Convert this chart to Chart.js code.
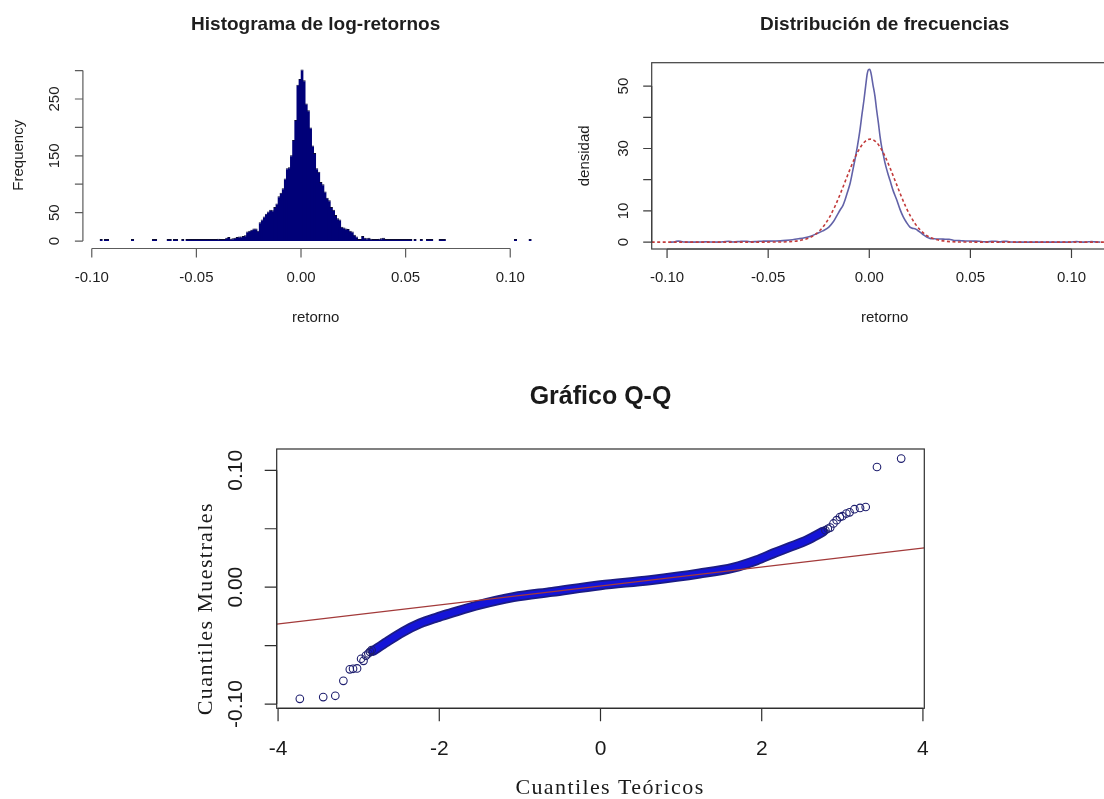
<!DOCTYPE html>
<html>
<head>
<meta charset="utf-8">
<script src="https://cdn.jsdelivr.net/npm/chart.js@4.4.1/dist/chart.umd.min.js"></script>
<style>
  html, body { margin: 0; padding: 0; background: #fff; }
  #page { position: relative; width: 1104px; height: 799px; overflow: hidden; background: #fff; }
  canvas { position: absolute; }
</style>
</head>
<body>
<div id="page">
  <canvas id="hist" width="560" height="340" style="left:0;top:0"></canvas>
  <canvas id="dens" width="600" height="340" style="left:552px;top:0"></canvas>
  <canvas id="qq" width="1104" height="459" style="left:0;top:340px"></canvas>
</div>
<script>
// ---------- Histogram of daily log-returns: bins 0.001 wide, first break at -0.096
const histFirstBreak = -0.096;
const histBinWidth = 0.001;
const histCounts = [
  1, 0, 1, 1, 0, 0, 0, 0, 0, 0,
  0, 0, 0, 0, 0, 1, 0, 0, 0, 0,
  0, 0, 0, 0, 0, 1, 1, 0, 0, 0,
  0, 0, 1, 1, 0, 1, 1, 0, 0, 1,
  0, 1, 1, 1, 1, 2, 1, 1, 2, 1,
  1, 2, 1, 2, 1, 2, 4, 2, 2, 3,
  6, 7, 4, 5, 6, 7, 8, 8, 9, 10,
  17, 18, 20, 22, 22, 18, 33, 38, 43, 48,
  52, 55, 54, 60, 66, 79, 85, 93, 110, 128,
  130, 151, 178, 213, 275, 285, 302, 283, 242, 230,
  200, 168, 155, 128, 122, 104, 100, 87, 76, 72,
  60, 55, 46, 40, 38, 25, 24, 22, 21, 18,
  17, 11, 8, 2, 1, 9, 6, 5, 6, 4,
  3, 2, 2, 4, 5, 6, 3, 2, 3, 2,
  1, 3, 2, 1, 2, 1, 1, 1, 1, 0,
  1, 0, 0, 1, 0, 0, 1, 1, 1, 0,
  0, 0, 1, 1, 1, 0, 0, 0, 0, 0,
  0, 0, 0, 0, 0, 0, 0, 0, 0, 0,
  0, 0, 0, 0, 0, 0, 0, 0, 0, 0,
  0, 0, 0, 0, 0, 0, 0, 0, 1, 0,
  0, 0, 0, 0, 0, 1
];
const histXTicks = [-0.10, -0.05, 0.00, 0.05, 0.10];
const histXTickLabels = ['-0.10', '-0.05', '0.00', '0.05', '0.10'];
const histYTicks = [0, 50, 100, 150, 200, 250, 300];
const histYTickLabels = ['0', '50', '', '150', '', '250', ''];

// ---------- Kernel density of the returns and the fitted normal density
const densBlueX = [
  -0.0984, -0.0965, -0.0955, -0.0945, -0.0930, -0.0915, -0.0880, -0.0820, -0.0805, -0.0790,
  -0.0740, -0.0710, -0.0695, -0.0675, -0.0640, -0.0625, -0.0605, -0.0585, -0.0565, -0.0545,
  -0.0525, -0.0500, -0.0470, -0.0440, -0.0410, -0.0380, -0.0350, -0.0320, -0.0290, -0.0260,
  -0.0230, -0.0200, -0.0178, -0.0160, -0.0145, -0.0130, -0.0120, -0.0108, -0.0095, -0.0083,
  -0.0071, -0.0058, -0.0046, -0.0036, -0.0026, -0.0018, -0.0010, -0.0004, 0.0002, 0.0008,
  0.0018, 0.0028, 0.0036, 0.0045, 0.0053, 0.0061, 0.0070, 0.0078, 0.0090, 0.0102,
  0.0118, 0.0136, 0.0152, 0.0168, 0.0185, 0.0201, 0.0214, 0.0226, 0.0238, 0.0251,
  0.0268, 0.0284, 0.0300, 0.0317, 0.0335, 0.0355, 0.0375, 0.0395, 0.0415, 0.0435,
  0.0455, 0.0475, 0.0500, 0.0520, 0.0545, 0.0565, 0.0580, 0.0605, 0.0625, 0.0645,
  0.0665, 0.0680, 0.0700, 0.0730, 0.0990, 0.1010, 0.1025, 0.1040, 0.1065, 0.1085,
  0.1100, 0.1115, 0.1143
];
const densBlueY = [
  0.00, 0.05, 0.25, 0.30, 0.20, 0.05, 0.00, 0.02, 0.12, 0.02,
  0.00, 0.20, 0.25, 0.05, 0.20, 0.28, 0.25, 0.12, 0.15, 0.28,
  0.30, 0.32, 0.35, 0.40, 0.55, 0.75, 1.05, 1.40, 1.90, 2.70,
  3.60, 4.80, 6.50, 8.50, 10.2, 11.8, 13.5, 16.0, 18.8, 22.5,
  26.4, 31.0, 36.0, 41.0, 45.7, 50.0, 54.0, 55.3, 55.4, 54.3,
  50.5, 46.8, 42.5, 38.2, 34.0, 30.6, 27.8, 25.3, 22.4, 19.9,
  16.5, 13.5, 10.5, 8.10, 6.20, 4.80, 4.40, 4.30, 3.80, 3.20,
  2.30, 1.60, 1.20, 1.10, 1.00, 1.00, 0.90, 0.90, 0.60, 0.50,
  0.45, 0.35, 0.35, 0.32, 0.25, 0.10, 0.08, 0.22, 0.25, 0.08,
  0.22, 0.22, 0.05, 0.00, 0.00, 0.10, 0.15, 0.08, 0.00, 0.10,
  0.15, 0.08, 0.00
];
const densRedX = [
  -0.1076, -0.0600, -0.0495, -0.0445, -0.0395, -0.0345, -0.0295, -0.0270, -0.0245, -0.0220,
  -0.0195, -0.0170, -0.0145, -0.0120, -0.0095, -0.0070, -0.0045, -0.0020, 0.0005, 0.0030,
  0.0055, 0.0080, 0.0105, 0.0130, 0.0155, 0.0180, 0.0205, 0.0230, 0.0255, 0.0280,
  0.0305, 0.0355, 0.0405, 0.0455, 0.0505, 0.0600, 0.1228
];
const densRedY = [
  0.00, 0.00, 0.01, 0.03, 0.14, 0.50, 1.40, 2.30, 3.70, 5.60,
  8.20, 11.4, 15.2, 19.3, 23.4, 27.2, 30.3, 32.3, 33.0, 32.3,
  30.3, 27.2, 23.4, 19.3, 15.2, 11.4, 8.20, 5.60, 3.70, 2.30,
  1.40, 0.50, 0.14, 0.03, 0.01, 0.00, 0.00
];
const densXTicks = [-0.10, -0.05, 0.00, 0.05, 0.10];
const densXTickLabels = ['-0.10', '-0.05', '0.00', '0.05', '0.10'];
const densYTicks = [0, 10, 20, 30, 40, 50];
const densYTickLabels = ['0', '10', '', '30', '', '50'];

// ---------- Normal Q-Q plot of the returns
// dense central run of points (traced as a band)
const qqBandX = [-2.82, -2.65, -2.45, -2.24, -2.03, -1.87, -1.50, -1.08, -0.60, 0.00,
                 0.61, 1.23, 1.65, 1.94, 2.14, 2.35, 2.56, 2.76];
const qqBandY = [-0.0545, -0.0468, -0.0382, -0.0310, -0.0259, -0.0225, -0.0150, -0.0085, -0.0040, 0.0017,
                 0.0060, 0.0117, 0.0168, 0.0231, 0.0288, 0.0344, 0.0402, 0.0475];
// individual points in both tails
const qqTailX = [-3.73, -3.44, -3.29, -3.19, -3.11, -3.07, -3.02, -2.97, -2.94, -2.91, -2.88, -2.86, -2.84,
                 2.79, 2.82, 2.85, 2.89, 2.93, 2.97, 3.00, 3.05, 3.09, 3.15, 3.22, 3.29, 3.43, 3.73];
const qqTailY = [-0.0955, -0.0940, -0.0929, -0.0801, -0.0703, -0.0698, -0.0695, -0.0612, -0.0630, -0.0585, -0.0567, -0.0553, -0.0538,
                 0.0487, 0.0500, 0.0510, 0.0545, 0.0573, 0.0600, 0.0607, 0.0630, 0.0640, 0.0667, 0.0678, 0.0686, 0.1028, 0.1100];
// reference line through the quartiles
const qqLineX = [-4.017, 4.017];
const qqLineY = [-0.0316, 0.0336];
const qqXTicks = [-4, -2, 0, 2, 4];
const qqXTickLabels = ['-4', '-2', '0', '2', '4'];
const qqYTicks = [-0.10, -0.05, 0.00, 0.05, 0.10];
const qqYTickLabels = ['-0.10', '', '0.00', '', '0.10'];

// ---------- helpers
const SANS = '"Liberation Sans", Arial, Helvetica, sans-serif';
const SERIF = '"Liberation Serif", "Times New Roman", serif';
const pairs = (xs, ys) => xs.map((x, i) => ({ x: x, y: ys[i] }));

function drawText(ctx, s, x, y, font, rot, spacing) {
  if (!s) return;
  ctx.save();
  ctx.translate(x, y);
  if (rot) ctx.rotate(rot);
  ctx.font = font;
  ctx.textAlign = 'center';
  ctx.textBaseline = 'middle';
  if (spacing && 'letterSpacing' in ctx) ctx.letterSpacing = spacing;
  ctx.fillText(s, 0, 0);
  ctx.restore();
}

// Base-graphics style axes: axis line spans first..last tick, outward ticks,
// y labels written parallel to the axis, optional frame and main title.
function baseAxes(cfg) {
  return {
    id: 'baseAxes',
    afterDraw(chart) {
      const ctx = chart.ctx, a = chart.chartArea;
      const sx = chart.scales.x, sy = chart.scales.y;
      const midX = (a.left + a.right) / 2, midY = (a.top + a.bottom) / 2;
      ctx.save();
      ctx.strokeStyle = cfg.lineColor;
      ctx.lineWidth = cfg.lineWidth;
      ctx.fillStyle = cfg.textColor;
      if (cfg.box) ctx.strokeRect(a.left, a.top, a.right - a.left, a.bottom - a.top);

      const b = cfg.bottom, yb = a.bottom + b.gap;
      const xp = b.ticks.map(v => sx.getPixelForValue(v));
      ctx.beginPath();
      ctx.moveTo(xp[0], yb);
      ctx.lineTo(xp[xp.length - 1], yb);
      xp.forEach(p => { ctx.moveTo(p, yb); ctx.lineTo(p, yb + b.tickLen); });
      ctx.stroke();
      b.labels.forEach((t, i) => drawText(ctx, t, xp[i], a.bottom + b.labelDy, b.font, 0));
      drawText(ctx, b.title, midX + (b.titleDx || 0), a.bottom + b.titleDy, b.titleFont, 0, b.spacing);

      const l = cfg.left, xl = a.left - l.gap;
      const yp = l.ticks.map(v => sy.getPixelForValue(v));
      ctx.beginPath();
      ctx.moveTo(xl, yp[0]);
      ctx.lineTo(xl, yp[yp.length - 1]);
      yp.forEach(p => { ctx.moveTo(xl, p); ctx.lineTo(xl - l.tickLen, p); });
      ctx.stroke();
      l.labels.forEach((t, i) => drawText(ctx, t, a.left + l.labelDx, yp[i], l.font, -Math.PI / 2));
      drawText(ctx, l.title, a.left + l.titleDx, midY + (l.titleDy || 0), l.titleFont, -Math.PI / 2, l.spacing);

      drawText(ctx, cfg.title.text, midX, a.top + cfg.title.dy, cfg.title.font, 0);
      ctx.restore();
    }
  };
}

const common = {
  responsive: false,
  animation: false,
  devicePixelRatio: 1,
  events: [],
};
const noLegend = { legend: { display: false }, tooltip: { enabled: false }, title: { display: false } };

// ---------- histogram
const histBars = histCounts
  .map((c, i) => ({ x: histFirstBreak + (i + 0.5) * histBinWidth, y: c }))
  .filter(d => d.y > 0);

new Chart(document.getElementById('hist'), {
  type: 'bar',
  data: {
    datasets: [{
      data: histBars,
      backgroundColor: '#000078',
      borderColor: '#0a0a32',
      borderWidth: { top: 1, left: 0, right: 0, bottom: 0 },
      // slightly widened so neighbouring bars overlap and leave no anti-aliased seams
      barPercentage: 1.5,
      categoryPercentage: 1,
      minBarLength: 2
    }]
  },
  options: Object.assign({}, common, {
    layout: { padding: { left: 82.9, right: 11.6, top: 62.6, bottom: 92.1 } },
    scales: {
      x: { type: 'linear', min: -0.10424, max: 0.11824, offset: false, display: false },
      y: { type: 'linear', min: -12.08, max: 314.08, display: false }
    },
    plugins: noLegend
  }),
  plugins: [baseAxes({
    lineColor: '#5c5c5c', lineWidth: 1.2, textColor: '#1e1e1e', box: false,
    title: { text: 'Histograma de log-retornos', font: 'bold 19px ' + SANS, dy: -37.6 },
    bottom: { ticks: histXTicks, labels: histXTickLabels, gap: 0.6, tickLen: 9,
              font: '15px ' + SANS, labelDy: 30.4, title: 'retorno', titleFont: '15px ' + SANS, titleDy: 70 },
    left: { ticks: histYTicks, labels: histYTickLabels, gap: 0, tickLen: 8,
            font: '15px ' + SANS, labelDx: -28, title: 'Frequency', titleFont: '15px ' + SANS, titleDx: -64 }
  })]
});

// ---------- density comparison
new Chart(document.getElementById('dens'), {
  type: 'scatter',
  data: {
    datasets: [
      { data: pairs(densRedX, densRedY), showLine: true, borderColor: '#c23b3b', borderWidth: 1.6,
        borderDash: [3, 2.5], pointRadius: 0, cubicInterpolationMode: 'monotone', order: 0 },
      { data: pairs(densBlueX, densBlueY), showLine: true, borderColor: '#6262a8', borderWidth: 1.6,
        pointRadius: 0, cubicInterpolationMode: 'monotone', order: 1 }
    ]
  },
  options: Object.assign({}, common, {
    layout: { padding: { left: 99.7, right: 34.4, top: 62.7, bottom: 91 } },
    scales: {
      x: { type: 'linear', min: -0.1076, max: 0.1228, display: false },
      y: { type: 'linear', min: -2.21, max: 57.5, display: false }
    },
    plugins: noLegend
  }),
  plugins: [baseAxes({
    lineColor: '#3f3f3f', lineWidth: 1.2, textColor: '#1e1e1e', box: true,
    title: { text: 'Distribución de frecuencias', font: 'bold 19px ' + SANS, dy: -37.7 },
    bottom: { ticks: densXTicks, labels: densXTickLabels, gap: 0, tickLen: 9,
              font: '15px ' + SANS, labelDy: 29, title: 'retorno', titleFont: '15px ' + SANS, titleDy: 69 },
    left: { ticks: densYTicks, labels: densYTickLabels, gap: 0, tickLen: 8.5,
            font: '15px ' + SANS, labelDx: -28.2, title: 'densidad', titleFont: '15px ' + SANS, titleDx: -66.7 }
  })]
});

// ---------- normal Q-Q plot
const band = pairs(qqBandX, qqBandY);
new Chart(document.getElementById('qq'), {
  type: 'scatter',
  data: {
    datasets: [
      { data: pairs(qqLineX, qqLineY), showLine: true, borderColor: '#a33a3a', borderWidth: 1.2,
        pointRadius: 0, order: 0 },
      { data: pairs(qqTailX, qqTailY), showLine: false, pointRadius: 3.8, pointBorderWidth: 1.1,
        pointBorderColor: '#1e1e6e', pointBackgroundColor: 'rgba(0,0,0,0)', order: 1 },
      { data: band, showLine: true, borderColor: '#1414d8', borderWidth: 6.5, borderCapStyle: 'round',
        borderJoinStyle: 'round', cubicInterpolationMode: 'monotone', pointRadius: 0, order: 2 },
      { data: band, showLine: true, borderColor: '#1c1c84', borderWidth: 10, borderCapStyle: 'round',
        borderJoinStyle: 'round', cubicInterpolationMode: 'monotone', pointRadius: 0, order: 3 }
    ]
  },
  options: Object.assign({}, common, {
    layout: { padding: { left: 276.7, right: 179.7, top: 109, bottom: 90.7 } },
    scales: {
      x: { type: 'linear', min: -4.017, max: 4.017, display: false },
      y: { type: 'linear', min: -0.1036, max: 0.1182, display: false }
    },
    plugins: noLegend
  }),
  plugins: [baseAxes({
    lineColor: '#2e2e2e', lineWidth: 1.2, textColor: '#1a1a1a', box: true,
    title: { text: 'Gráfico Q-Q', font: 'bold 25px ' + SANS, dy: -52 },
    bottom: { ticks: qqXTicks, labels: qqXTickLabels, gap: 0, tickLen: 13,
              font: '21px ' + SANS, labelDy: 40.7, title: 'Cuantiles Teóricos', titleFont: '22px ' + SERIF,
              titleDy: 79.7, titleDx: 9.5, spacing: '1.4px' },
    left: { ticks: qqYTicks, labels: qqYTickLabels, gap: 0, tickLen: 12,
            font: '21px ' + SANS, labelDx: -40, title: 'Cuantiles Muestrales', titleFont: '22px ' + SERIF,
            titleDx: -70, titleDy: 30, spacing: '1.4px' }
  })]
});
</script>
</body>
</html>
